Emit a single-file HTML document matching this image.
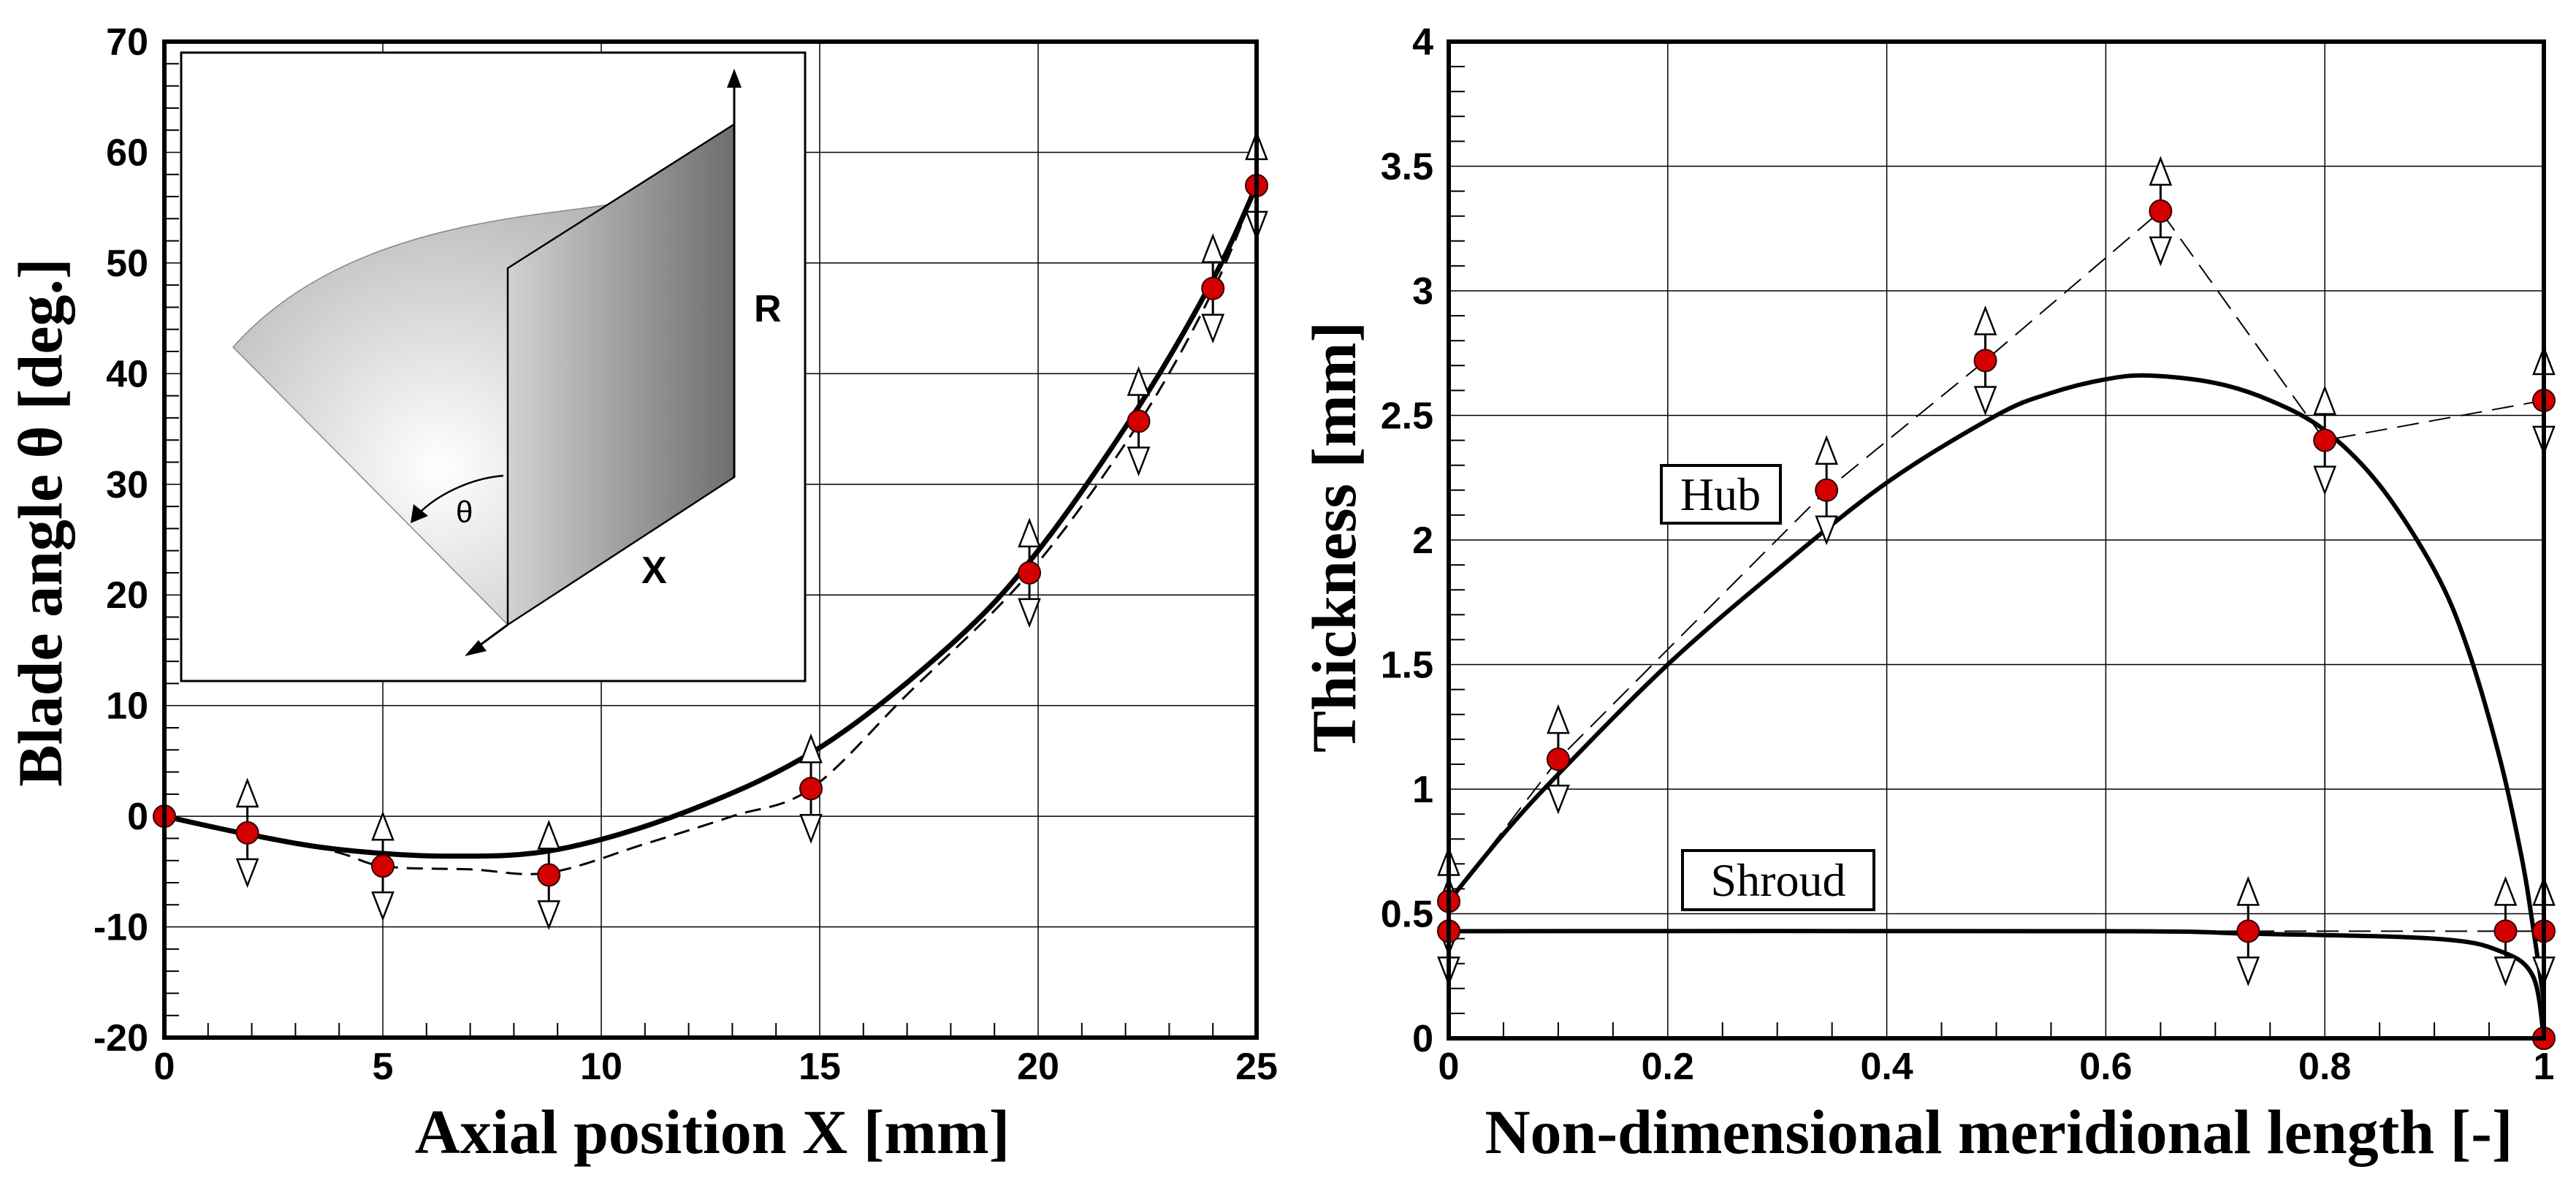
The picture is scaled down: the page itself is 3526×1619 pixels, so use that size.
<!DOCTYPE html>
<html><head><meta charset="utf-8"><style>
html,body{margin:0;padding:0;background:#fff;}
svg{display:block;}
.tk{font-family:"Liberation Sans",sans-serif;font-weight:bold;font-size:52px;}
.tt{font-family:"Liberation Serif",serif;font-weight:bold;font-size:86px;}
</style></head><body>
<svg id="fig" width="3526" height="1619" viewBox="0 0 3526 1619" xmlns="http://www.w3.org/2000/svg">
<defs>
<radialGradient id="gl" cx="600" cy="640" r="420" gradientUnits="userSpaceOnUse">
<stop offset="0" stop-color="#ffffff"/><stop offset="1" stop-color="#b4b4b4"/></radialGradient>
<linearGradient id="gp" x1="695" y1="0" x2="1005" y2="0" gradientUnits="userSpaceOnUse">
<stop offset="0" stop-color="#d2d2d2"/><stop offset="1" stop-color="#6e6e6e"/></linearGradient>
</defs>
<g id="left"></g>
<g id="right"></g>
</svg>
<script>
// ---- Left chart data ----
const leftXTicks = [0,5,10,15,20,25];
const leftYTicks = [-20,-10,0,10,20,30,40,50,60,70];
const leftMarkerX = [0,1.9,5,8.8,14.8,19.8,22.3,24,25];
const leftMarkerY = [0,-1.5,-4.5,-5.3,2.5,22,35.7,47.7,57];
const leftSolidX = [0,2,4,6.5,9,12,15,18,20,22.3,24,25];
const leftSolidY = [0,-1.7,-3,-3.6,-3,0.5,6.2,15.5,24,37,48.5,57];
const leftDashX = [0,3.7,5,7,8.8,11,13,14.8,17,19.8,22.3,24,25];
const leftDashY = [0,-3,-4.5,-4.8,-5.1,-2.5,0,2.5,11,22,35.5,47.5,57];
// ---- Right chart data ----
const rightXTicks = [0,0.2,0.4,0.6,0.8,1];
const rightXLabels = ['0','0.2','0.4','0.6','0.8','1'];
const rightYTicks = [0,0.5,1,1.5,2,2.5,3,3.5,4];
const rightYLabels = ['0','0.5','1','1.5','2','2.5','3','3.5','4'];
const hubMarkerX = [0,0.1,0.345,0.49,0.65,0.8,1];
const hubMarkerY = [0.55,1.12,2.2,2.72,3.32,2.4,2.56];
const shroudMarkerX = [0,0.73,0.965,1];
const shroudMarkerY = [0.43,0.43,0.43,0.43];
const hubSolidX = [0,0.05,0.1,0.2,0.3,0.4,0.5,0.55,0.6,0.64,0.7,0.75,0.8,0.85,0.9,0.93,0.96,0.98,0.99,1];
const hubSolidY = [0.55,0.82,1.06,1.5,1.88,2.23,2.5,2.59,2.645,2.66,2.63,2.56,2.44,2.22,1.88,1.57,1.12,0.72,0.45,0.15];
const shroudSolidX = [0,0.6,0.73,0.9,0.96,0.99,1];
const shroudSolidY = [0.43,0.43,0.42,0.4,0.35,0.25,0];
const shroudDashX = [0,0.73,0.965,1];
const shroudDashY = [0.43,0.43,0.43,0.43];
const endMarkerX = [1];
const endMarkerY = [0];

const NS='http://www.w3.org/2000/svg';
function mk(parent,tag,attrs,text){const e=document.createElementNS(NS,tag);for(const k in attrs)e.setAttribute(k,attrs[k]);if(text!==undefined)e.textContent=text;parent.appendChild(e);return e;}
function smooth(pts){let d='M'+pts[0][0]+','+pts[0][1];for(let i=0;i<pts.length-1;i++){const p0=pts[Math.max(i-1,0)],p1=pts[i],p2=pts[i+1],p3=pts[Math.min(i+2,pts.length-1)];const c1=[p1[0]+(p2[0]-p0[0])/6,p1[1]+(p2[1]-p0[1])/6],c2=[p2[0]-(p3[0]-p1[0])/6,p2[1]-(p3[1]-p1[1])/6];d+=' C'+c1+' '+c2+' '+p2;}return d;}
function poly(pts){return 'M'+pts.map(p=>p.join(',')).join(' L');}
function arrows(g,cx,cy){
  [-1,1].forEach(s=>{
    const a=mk(g,'line',{x1:cx,y1:cy,x2:cx,y2:cy+s*36,stroke:'#000','stroke-width':3});
    
    
    const t=mk(g,'path',{d:`M${cx},${cy+s*72} L${cx-14},${cy+s*36} L${cx+14},${cy+s*36} Z`,fill:'#fff',stroke:'#000','stroke-width':2.5});
    
    
  });
}
function marker(g,cx,cy){const c=mk(g,'circle',{cx:cx,cy:cy,r:15,fill:'#d40000',stroke:'#300','stroke-width':2});
  
  }

// ================= LEFT =================
(function(){
const g=document.getElementById('left');
const X0=225,X1=1720,Y0=1420,Y1=57;
const sx=v=>X0+(v-0)/(25-0)*(X1-X0);
const sy=v=>Y0-(v+20)/90*(Y0-Y1);
leftXTicks.forEach(v=>{if(v>0&&v<25){const l=mk(g,'line',{x1:sx(v),y1:Y0,x2:sx(v),y2:Y1,stroke:'#000','stroke-width':1.5});}});
leftYTicks.forEach(v=>{if(v>-20&&v<70){const l=mk(g,'line',{x1:X0,y1:sy(v),x2:X1,y2:sy(v),stroke:'#000','stroke-width':1.5});}});
for(let v=-18;v<70;v+=2){if(v%10)mk(g,'line',{x1:X0,y1:sy(v),x2:X0+20,y2:sy(v),stroke:'#000','stroke-width':2});}
for(let v=1;v<25;v++){if(v%5)mk(g,'line',{x1:sx(v),y1:Y0,x2:sx(v),y2:Y0-20,stroke:'#000','stroke-width':2});}
// inset
const ins=mk(g,'g',{});


mk(ins,'rect',{x:248,y:72,width:854,height:860,fill:'#fff',stroke:'#000','stroke-width':3});
mk(ins,'path',{d:'M319,475 C430,350 600,310 760,290 C900,272 985,262 1005,170 L1005,653 L695,855 Z',fill:'url(#gl)',stroke:'#888','stroke-width':1.5});
mk(ins,'path',{d:'M695,367 L1005,170 L1005,653 L695,855 Z',fill:'url(#gp)',stroke:'#000','stroke-width':2.5});
mk(ins,'path',{d:'M1005,653 L1005,110',stroke:'#000','stroke-width':3,fill:'none'});
mk(ins,'path',{d:'M995,120 L1005,94 L1015,120 Z',fill:'#000'});
mk(ins,'path',{d:'M695,855 L650,888',stroke:'#000','stroke-width':3,fill:'none'});
mk(ins,'path',{d:'M655,876 L636,898 L666,891 Z',fill:'#000'});
mk(ins,'path',{d:'M689,651 C640,655 595,680 572,704',stroke:'#000','stroke-width':2.5,fill:'none'});
mk(ins,'path',{d:'M566,690 L562,716 L586,706 Z',fill:'#000'});
const tR=mk(ins,'text',{x:1032,y:440,class:'tk','font-size':'44'},'R');
const tT=mk(ins,'text',{x:624,y:715,'font-family':'Liberation Sans, sans-serif','font-size':'42'},'θ');
const tX=mk(ins,'text',{x:878,y:798,class:'tk','font-size':'44'},'X');
// curves
const ps=mk(g,'path',{d:smooth(leftSolidX.map((v,i)=>[sx(v),sy(leftSolidY[i])])),fill:'none',stroke:'#000','stroke-width':7});

const pd=mk(g,'path',{d:smooth(leftDashX.map((v,i)=>[sx(v),sy(leftDashY[i])])),fill:'none',stroke:'#000','stroke-width':3,'stroke-dasharray':'22,12'});

leftMarkerX.forEach((v,i)=>{if(i>0)arrows(g,sx(v),sy(leftMarkerY[i]));});
leftMarkerX.forEach((v,i)=>marker(g,sx(v),sy(leftMarkerY[i])));
const fr=mk(g,'rect',{x:X0,y:Y1,width:X1-X0,height:Y0-Y1,fill:'none',stroke:'#000','stroke-width':6});

leftXTicks.forEach(v=>{const t=mk(g,'text',{x:sx(v),y:1477,'text-anchor':'middle',class:'tk'},String(v));});
leftYTicks.forEach(v=>{const t=mk(g,'text',{x:203,y:sy(v)+18,'text-anchor':'end',class:'tk'},String(v));});
const xt=mk(g,'text',{x:975,y:1578,'text-anchor':'middle',class:'tt'},'Axial position X [mm]');
const yt=mk(g,'text',{x:0,y:0,'text-anchor':'middle',class:'tt',transform:'translate(84,715) rotate(-90)'},'Blade angle \u03B8 [deg.]');
})();

// ================= RIGHT =================
(function(){
const g=document.getElementById('right');
const X0=1983,X1=3482,Y0=1421,Y1=57;
const sx=v=>X0+v*(X1-X0);
const sy=v=>Y0-v/4*(Y0-Y1);
rightXTicks.forEach(v=>{if(v>0&&v<1){const l=mk(g,'line',{x1:sx(v),y1:Y0,x2:sx(v),y2:Y1,stroke:'#000','stroke-width':1.5});}});
rightYTicks.forEach(v=>{if(v>0&&v<4){const l=mk(g,'line',{x1:X0,y1:sy(v),x2:X1,y2:sy(v),stroke:'#000','stroke-width':1.5});}});
for(let i=1;i<40;i++){if(i%5)mk(g,'line',{x1:X0,y1:sy(i/10),x2:X0+22,y2:sy(i/10),stroke:'#000','stroke-width':2});}
for(let i=1;i<20;i++){if(i%4)mk(g,'line',{x1:sx(i/20),y1:Y0,x2:sx(i/20),y2:Y0-22,stroke:'#000','stroke-width':2});}
const hd=mk(g,'path',{d:poly(hubMarkerX.map((v,i)=>[sx(v),sy(hubMarkerY[i])])),fill:'none',stroke:'#000','stroke-width':2,'stroke-dasharray':'30,14'});

const sd=mk(g,'path',{d:poly(shroudDashX.map((v,i)=>[sx(v),sy(shroudDashY[i])])),fill:'none',stroke:'#000','stroke-width':2,'stroke-dasharray':'30,14'});

const hs=mk(g,'path',{d:smooth(hubSolidX.map((v,i)=>[sx(v),sy(hubSolidY[i])])),fill:'none',stroke:'#000','stroke-width':6});

const ss=mk(g,'path',{d:smooth(shroudSolidX.map((v,i)=>[sx(v),sy(shroudSolidY[i])])),fill:'none',stroke:'#000','stroke-width':6});

hubMarkerX.forEach((v,i)=>arrows(g,sx(v),sy(hubMarkerY[i])));
shroudMarkerX.forEach((v,i)=>arrows(g,sx(v),sy(shroudMarkerY[i])));
hubMarkerX.forEach((v,i)=>marker(g,sx(v),sy(hubMarkerY[i])));
shroudMarkerX.forEach((v,i)=>marker(g,sx(v),sy(shroudMarkerY[i])));
endMarkerX.forEach((v,i)=>marker(g,sx(v),sy(endMarkerY[i])));
const fr=mk(g,'rect',{x:X0,y:Y1,width:X1-X0,height:Y0-Y1,fill:'none',stroke:'#000','stroke-width':6});

// labels
const hb=mk(g,'rect',{x:2274,y:637,width:163,height:79,fill:'#fff',stroke:'#000','stroke-width':4});

const ht=mk(g,'text',{x:2355,y:698,'text-anchor':'middle','font-family':'Liberation Serif, serif','font-size':'64'},'Hub');

const sb=mk(g,'rect',{x:2303,y:1164,width:262,height:81,fill:'#fff',stroke:'#000','stroke-width':4});

const st=mk(g,'text',{x:2434,y:1226,'text-anchor':'middle','font-family':'Liberation Serif, serif','font-size':'64'},'Shroud');

rightXTicks.forEach((v,i)=>{const t=mk(g,'text',{x:sx(v),y:1477,'text-anchor':'middle',class:'tk'},rightXLabels[i]);});
rightYTicks.forEach((v,i)=>{const t=mk(g,'text',{x:1962,y:sy(v)+18,'text-anchor':'end',class:'tk'},rightYLabels[i]);});
const xt=mk(g,'text',{x:2736,y:1578,'text-anchor':'middle',class:'tt'},'Non-dimensional meridional length [-]');
const yt=mk(g,'text',{x:0,y:0,'text-anchor':'middle',class:'tt',transform:'translate(1855,735) rotate(-90)'},'Thickness [mm]');
})();
</script>
</body></html>
